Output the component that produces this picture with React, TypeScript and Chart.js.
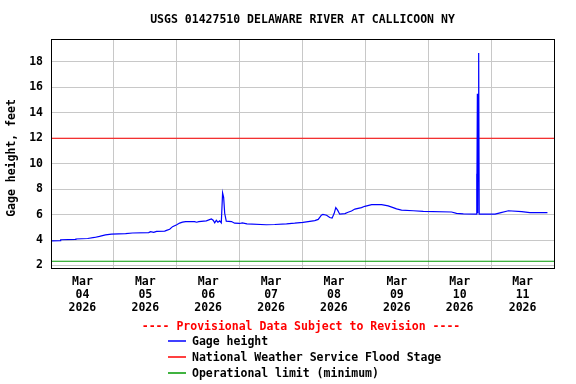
import React, { useEffect, useRef } from 'react';
import { Chart, registerables } from 'chart.js';

Chart.register(...registerables);

const TITLE = 'USGS 01427510 DELAWARE RIVER AT CALLICOON NY';
const Y_LABEL = 'Gage height, feet';
const PROVISIONAL = '---- Provisional Data Subject to Revision ----';
const MONTH = 'Mar';
const YEAR = '2026';
const DAY_LABELS = ['04', '05', '06', '07', '08', '09', '10', '11'];
const Y_TICKS = [2, 4, 6, 8, 10, 12, 14, 16, 18];
const LEGEND_LABELS = ['Gage height', 'National Weather Service Flood Stage', 'Operational limit (minimum)'];
const LEGEND_COLORS = ['#0000ff', '#ff0000', '#009a00'];

// hours since Mar 04 00:00
const HOURS = [
  0, 3.6, 3.7, 9.4, 9.5, 14, 16.6, 18.5, 20.8, 23.1, 28.5, 31.1, 37.3, 38, 39.2, 40.3, 43.4, 44.1,
  45.3, 46.4, 48, 49.1, 50.2, 51.4, 54.8, 55.6, 56.4, 59.3, 61.2, 61.9, 62.5, 63.1, 63.7, 64.4,
  65, 65.5, 65.9, 66.3, 66.9, 68.9, 70.1, 72, 73, 74.8, 82.2, 85.4, 89.9, 93, 96.2, 98.8, 100.7,
  102, 103.2, 103.8, 105.2, 106.4, 107.3, 108.1, 108.7, 109.4, 110.2, 112.2, 113.4, 114.7, 116,
  118.5, 119.8, 122.4, 126.2, 128.7, 130.6, 131.9, 133.8, 138.3, 142.1, 152.9, 154.8, 157.4,
  162.3, 162.45, 162.6, 162.75, 162.9, 163.05, 163.25, 163.45, 169.5, 171.4, 174.6, 179.7, 182.8, 189.5,
];
const GAGE = [
  3.93, 3.95, 4.02, 4.05, 4.08, 4.12, 4.2, 4.28, 4.4, 4.47, 4.5, 4.55, 4.58, 4.65, 4.6, 4.68, 4.7, 4.76,
  4.85, 5.05, 5.2, 5.33, 5.4, 5.45, 5.45, 5.4, 5.45, 5.5, 5.65, 5.55, 5.35, 5.55, 5.4, 5.5,
  5.35, 7.7, 7.35, 6.1, 5.48, 5.45, 5.32, 5.3, 5.34, 5.27, 5.2, 5.22, 5.27, 5.32, 5.39, 5.47, 5.52,
  5.62, 5.95, 6.02, 5.95, 5.77, 5.72, 6.1, 6.55, 6.35, 6.03, 6.08, 6.18, 6.28, 6.43,
  6.55, 6.65, 6.78, 6.78, 6.68, 6.55, 6.45, 6.35, 6.3, 6.25, 6.2, 6.1, 6.05,
  6.03, 9.2, 6.1, 15.5, 6.1, 15.4, 18.7, 6.03, 6.03, 6.13, 6.3, 6.23, 6.15, 6.15,
];
const FLOOD_STAGE = 12;
const OPERATIONAL_MIN = 2.33;
const X_MIN = 0;
const X_MAX = 192;
const Y_MIN = 1.8;
const Y_MAX = 19.8;

const FAMILY = '"DejaVu Sans Mono", monospace';
const FONT = `bold 11.5px ${FAMILY}`;

const overlay = {
  id: 'overlay',
  afterDraw(chart: any) {
    const { ctx, chartArea: a } = chart;
    ctx.save();
    ctx.strokeStyle = '#000';
    ctx.lineWidth = 1;
    ctx.strokeRect(Math.round(a.left) + 0.5, Math.round(a.top) + 0.5, Math.round(a.right - a.left), Math.round(a.bottom - a.top));
    ctx.font = FONT;
    ctx.fillStyle = '#000';
    ctx.textAlign = 'center';
    ctx.textBaseline = 'middle';
    const cx = (a.left + a.right) / 2;
    ctx.fillText(TITLE, cx, 20);
    ctx.save();
    ctx.translate(12, 158);
    ctx.rotate(-Math.PI / 2);
    ctx.fillText(Y_LABEL, 0, 0);
    ctx.restore();
    ctx.fillStyle = '#ff0000';
    ctx.fillText(PROVISIONAL, 301, 327);
    ctx.textAlign = 'left';
    LEGEND_LABELS.forEach((label, i) => {
      const y = 341 + i * 16;
      ctx.strokeStyle = LEGEND_COLORS[i];
      ctx.lineWidth = 1.5;
      ctx.beginPath();
      ctx.moveTo(168, y);
      ctx.lineTo(186, y);
      ctx.stroke();
      ctx.fillStyle = '#000';
      ctx.fillText(label, 192, y + 1);
    });
    ctx.restore();
  },
};

export default function App() {
  const ref = useRef<HTMLCanvasElement | null>(null);
  useEffect(() => {
    document.body.style.margin = '0';
    const canvas = ref.current;
    if (!canvas) return;
    const tickFont = { family: FAMILY, size: 11.5, weight: 'bold' as const, lineHeight: 1.13 };
    const chart = new Chart(canvas, {
      type: 'line',
      data: {
        datasets: [
          {
            label: LEGEND_LABELS[0],
            data: HOURS.map((h, i) => ({ x: h, y: GAGE[i] })),
            borderColor: LEGEND_COLORS[0],
            borderWidth: 1.2,
            pointRadius: 0,
            tension: 0,
          },
          {
            label: LEGEND_LABELS[1],
            data: [{ x: X_MIN, y: FLOOD_STAGE }, { x: X_MAX, y: FLOOD_STAGE }],
            borderColor: LEGEND_COLORS[1],
            borderWidth: 1.2,
            pointRadius: 0,
          },
          {
            label: LEGEND_LABELS[2],
            data: [{ x: X_MIN, y: OPERATIONAL_MIN }, { x: X_MAX, y: OPERATIONAL_MIN }],
            borderColor: LEGEND_COLORS[2],
            borderWidth: 1.2,
            pointRadius: 0,
          },
        ],
      },
      options: {
        responsive: false,
        animation: false,
        devicePixelRatio: 1,
        layout: { padding: { left: 0, right: 22, top: 39, bottom: 0 } },
        plugins: {
          legend: { display: false },
          title: { display: false },
          tooltip: { enabled: false },
        },
        scales: {
          x: {
            type: 'linear',
            min: X_MIN,
            max: X_MAX,
            afterFit: (s: any) => {
              s.height = 116;
            },
            ticks: {
              stepSize: 12,
              autoSkip: false,
              maxRotation: 0,
              minRotation: 0,
              padding: 8,
              color: '#000',
              font: tickFont,
              callback: (v: any) => {
                const n = Math.round(Number(v));
                if (n % 24 === 12) return [MONTH, DAY_LABELS[(n - 12) / 24], YEAR];
                return '';
              },
            },
            grid: {
              color: (c: any) => (Math.round(c.tick?.value ?? 0) % 24 === 0 ? '#c8c8c8' : 'rgba(0,0,0,0)'),
              drawTicks: false,
              lineWidth: 1,
            },
            border: { color: '#000', width: 1 },
          },
          y: {
            min: Y_MIN,
            max: Y_MAX,
            afterFit: (s: any) => {
              s.width = 51;
            },
            afterBuildTicks: (s: any) => {
              s.ticks = Y_TICKS.map((v) => ({ value: v }));
            },
            ticks: {
              autoSkip: false,
              padding: 8,
              color: '#000',
              font: tickFont,
            },
            grid: { color: '#c8c8c8', drawTicks: false, lineWidth: 1 },
            border: { color: '#000', width: 1 },
          },
        },
      } as any,
      plugins: [overlay],
    });
    return () => chart.destroy();
  }, []);
  return <canvas ref={ref} width={576} height={384} style={{ display: 'block', width: 576, height: 384 }} />;
}
